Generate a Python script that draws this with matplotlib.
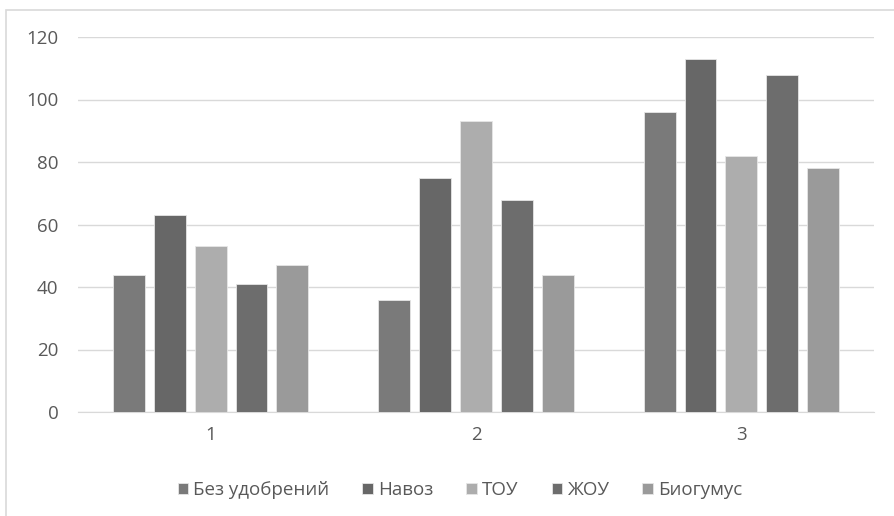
import numpy as np
import matplotlib.pyplot as plt
from matplotlib.patches import Rectangle

categories = ['1', '2', '3']
series = ['Без удобрений', 'Навоз', 'ТОУ', 'ЖОУ', 'Биогумус']
bez = [44, 36, 96]
navoz = [63, 75, 113]
tou = [53, 93, 82]
zhou = [41, 68, 108]
biogumus = [47, 44, 78]
values = [bez, navoz, tou, zhou, biogumus]
colors = ['#7a7a7a', '#676767', '#adadad', '#6d6d6d', '#9a9a9a']

plt.rcParams['font.family'] = ['Open Sans', 'DejaVu Sans']

fig = plt.figure(figsize=(8.95, 5.16), dpi=100)
fig.patches.append(Rectangle((6 / 895, -0.01), 1.0, 1 - 10 / 516 + 0.01,
                             transform=fig.transFigure, fill=False,
                             edgecolor='#d9d9d9', linewidth=1.2))
ax = fig.add_axes([78 / 895, 1 - 412 / 516, 796 / 895, 375 / 516])

x = np.arange(len(categories))
step = 0.154
width = 0.12
for i, (name, vals) in enumerate(zip(series, values)):
    ax.bar(x + (i - 2) * step, vals, width, color=colors[i], label=name,
           edgecolor='#e6e6e6', linewidth=0.6, zorder=3)

ax.set_xlim(-0.5, 2.5)
ax.set_ylim(0, 120)
ax.set_yticks(range(0, 121, 20))
ax.set_xticks(x)
ax.set_xticklabels(categories)
ax.grid(axis='y', color='#d9d9d9', linewidth=1, zorder=0)
for s in ['top', 'right', 'left']:
    ax.spines[s].set_visible(False)
ax.spines['bottom'].set_color('#d9d9d9')
ax.tick_params(axis='both', length=0, labelsize=13.5, colors='#595959')
ax.tick_params(axis='y', pad=14)
ax.tick_params(axis='x', pad=10)

ax.legend(loc='center', bbox_to_anchor=(0.48, -0.208), ncol=5, frameon=False,
          fontsize=13.5, labelcolor='#595959', handlelength=0.55,
          handleheight=0.55, handletextpad=0.3, columnspacing=1.75)

fig.savefig('out.png', dpi=100)
